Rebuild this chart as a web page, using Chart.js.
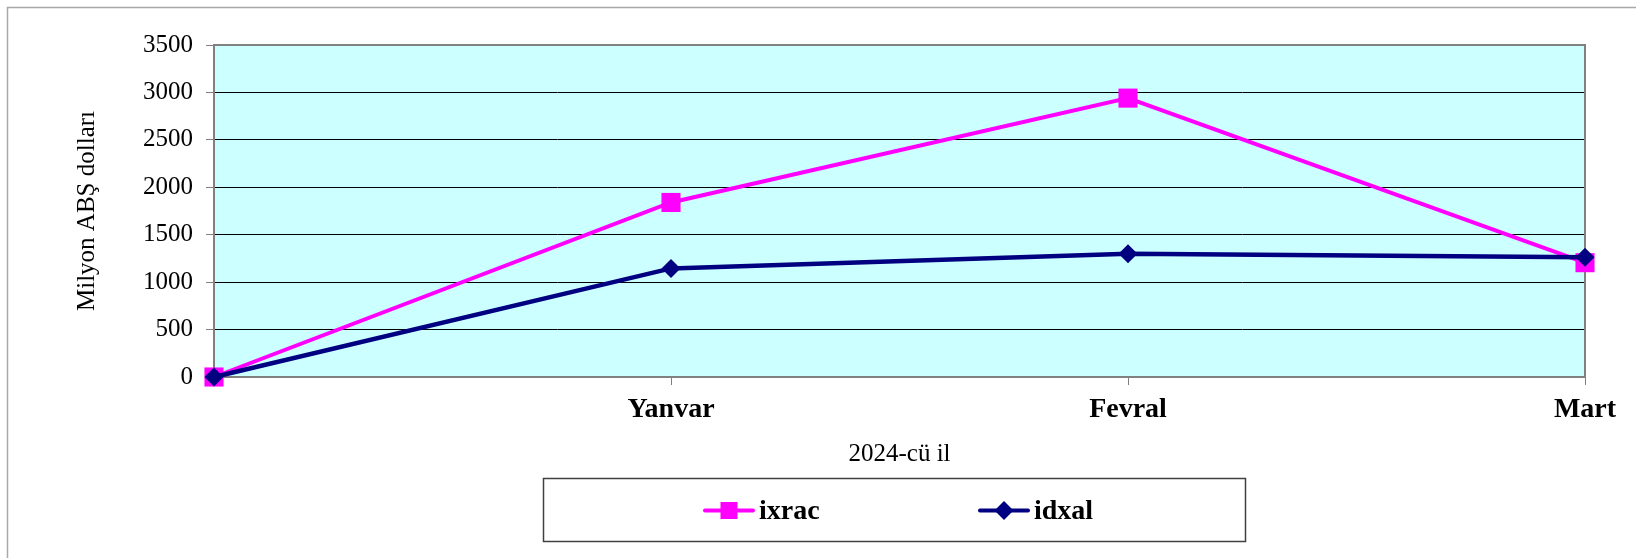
<!DOCTYPE html>
<html>
<head>
<meta charset="utf-8">
<script src="https://cdn.jsdelivr.net/npm/chart.js@4.4.0/dist/chart.umd.min.js"></script>
<style>
  html, body { margin: 0; padding: 0; background: #fff; }
  canvas { display: block; }
</style>
</head>
<body>
<canvas id="tradeChart" width="1636" height="558"></canvas>
<script>
const categories = ['', 'Yanvar', 'Fevral', 'Mart'];
const ixrac = [0, 1840, 2940, 1205];
const idxal = [0, 1145, 1300, 1263];
const yMin = 0;
const yMax = 3500;
const yStep = 500;

const serif = '"Liberation Serif", "Times New Roman", serif';

// plot background, frame and outer border
const framePlugin = {
  id: 'frame',
  beforeDraw(chart) {
    const { ctx, chartArea: a } = chart;
    ctx.save();
    ctx.fillStyle = '#fff';
    ctx.fillRect(0, 0, chart.width, chart.height);
    ctx.strokeStyle = '#a8a8a8';
    ctx.lineWidth = 1.5;
    ctx.strokeRect(7.5, 7.5, chart.width + 20, chart.height + 20);
    ctx.fillStyle = '#ccffff';
    ctx.fillRect(a.left, a.top, a.right - a.left, a.bottom - a.top);
    ctx.restore();
  },
  beforeDatasetsDraw(chart) {
    const { ctx, chartArea: a } = chart;
    ctx.save();
    ctx.strokeStyle = '#808080';
    ctx.lineWidth = 2;
    ctx.strokeRect(a.left, a.top, a.right - a.left, a.bottom - a.top);
    ctx.restore();
  }
};

// boxed legend with line + marker samples
const boxLegend = {
  id: 'boxLegend',
  afterDraw(chart) {
    const { ctx } = chart;
    const box = { x: 543.5, y: 478.5, w: 702, h: 63 };
    ctx.save();
    ctx.strokeStyle = '#404040';
    ctx.lineWidth = 1.5;
    ctx.strokeRect(box.x, box.y, box.w, box.h);

    const cy = box.y + 32;
    const starts = [703, 978];
    chart.data.datasets.forEach((ds, i) => {
      const x0 = starts[i];
      ctx.strokeStyle = ds.borderColor;
      ctx.lineWidth = 4;
      ctx.lineCap = 'round';
      ctx.beginPath();
      ctx.moveTo(x0 + 2, cy);
      ctx.lineTo(x0 + 50, cy);
      ctx.stroke();
      ctx.fillStyle = ds.borderColor;
      const mx = x0 + 26;
      if (ds.pointStyle === 'rect') {
        ctx.fillRect(mx - 8.5, cy - 8.5, 17, 17);
      } else {
        ctx.beginPath();
        ctx.moveTo(mx - 9.5, cy);
        ctx.lineTo(mx, cy - 9.5);
        ctx.lineTo(mx + 9.5, cy);
        ctx.lineTo(mx, cy + 9.5);
        ctx.closePath();
        ctx.fill();
      }
      ctx.fillStyle = '#000';
      ctx.font = 'bold 28px ' + serif;
      ctx.textBaseline = 'alphabetic';
      ctx.textAlign = 'left';
      ctx.fillText(ds.label, x0 + 56, cy + 8.5);
    });
    ctx.restore();
  }
};

new Chart(document.getElementById('tradeChart'), {
  type: 'line',
  data: {
    labels: categories,
    datasets: [
      {
        label: 'ixrac',
        data: ixrac,
        borderColor: '#ff00ff',
        backgroundColor: '#ff00ff',
        borderWidth: 4,
        pointStyle: 'rect',
        pointRadius: 13.5,
        pointBorderWidth: 0,
        tension: 0,
        clip: false,
        order: 1
      },
      {
        label: 'idxal',
        data: idxal,
        borderColor: '#000080',
        backgroundColor: '#000080',
        borderWidth: 4.5,
        pointStyle: 'rectRot',
        pointRadius: 9.5,
        pointBorderWidth: 0,
        tension: 0,
        clip: false,
        order: 0
      }
    ]
  },
  options: {
    responsive: false,
    devicePixelRatio: 1,
    animation: false,
    layout: { padding: { left: 0, right: 51, top: 45, bottom: 89 } },
    scales: {
      x: {
        offset: false,
        afterFit(s) { s.height = 92; },
        grid: {
          drawOnChartArea: false,
          drawTicks: true,
          tickLength: 8,
          tickColor: '#808080',
          lineWidth: 1
        },
        border: { color: '#808080', width: 2 },
        ticks: {
          color: '#000',
          padding: 8,
          maxRotation: 0,
          autoSkip: false,
          font: { family: serif, size: 28, weight: 'bold' }
        },
        title: {
          display: true,
          text: '2024-cü il',
          color: '#000',
          padding: { top: 4, bottom: 0 },
          font: { family: serif, size: 25 }
        }
      },
      y: {
        min: yMin,
        max: yMax,
        afterFit(s) { s.width = 214; },
        grid: {
          color: '#000',
          lineWidth: 1,
          drawTicks: true,
          tickLength: 8,
          tickColor: '#808080'
        },
        border: { color: '#808080', width: 2 },
        ticks: {
          stepSize: yStep,
          color: '#000',
          padding: 13,
          font: { family: serif, size: 25 },
          callback: (v) => String(v)
        },
        title: {
          display: true,
          text: 'Milyon ABŞ dolları',
          color: '#000',
          padding: { top: 72, bottom: 0 },
          font: { family: serif, size: 25 }
        }
      }
    },
    plugins: {
      legend: { display: false },
      tooltip: { enabled: false }
    }
  },
  plugins: [framePlugin, boxLegend]
});
</script>
</body>
</html>
